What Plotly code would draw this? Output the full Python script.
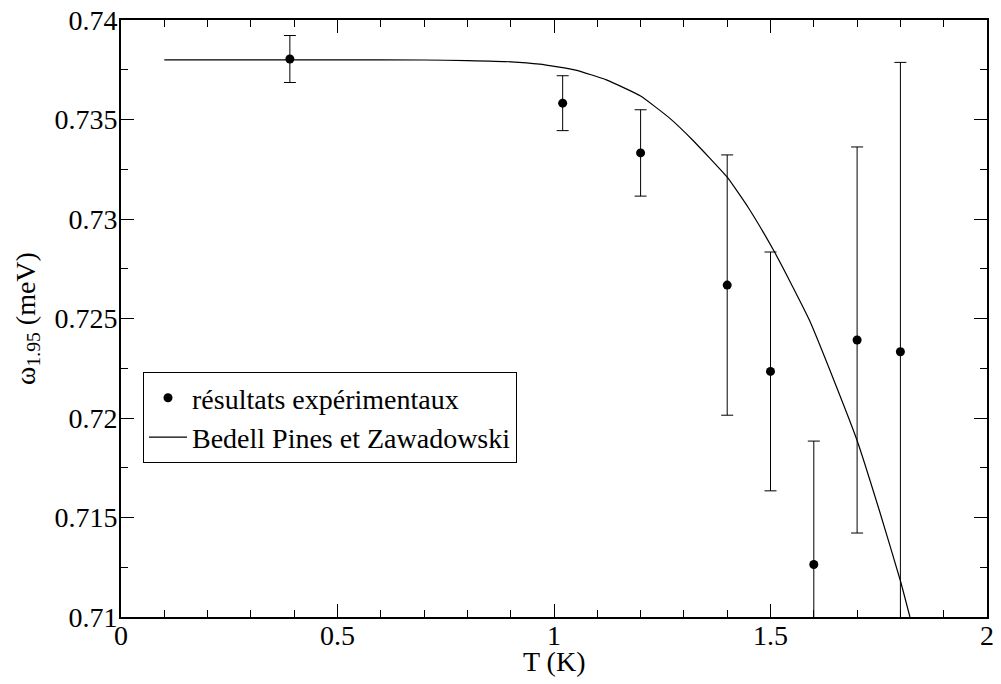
import plotly.graph_objects as go

# Experimental points
T_exp = [0.39, 1.02, 1.2, 1.4, 1.5, 1.6, 1.7, 1.8]
w_exp = [0.73804, 0.73582, 0.73332, 0.72668, 0.72234, 0.71264, 0.72392, 0.72333]
w_err = [0.00118, 0.00138, 0.00217, 0.00654, 0.0060, 0.0062, 0.0097, 0.01454]

# Theory curve (Bedell, Pines & Zawadowski)
T_bpz = [0.1, 0.5, 0.7, 0.8, 0.9, 0.967, 1.05, 1.121, 1.2, 1.267, 1.32, 1.4, 1.45,
         1.509, 1.55, 1.59, 1.65, 1.7, 1.75, 1.8, 1.822]
w_bpz = [0.738, 0.738, 0.73799, 0.73796, 0.7379, 0.73778, 0.73748, 0.73699, 0.73618,
         0.73507, 0.73397, 0.7321, 0.73053, 0.72835, 0.72665, 0.72491, 0.7217, 0.71887,
         0.71545, 0.71182, 0.7100]

x_ticks = [0, 0.5, 1, 1.5, 2]
x_labels = ["0", "0.5", "1", "1.5", "2"]
y_ticks = [0.71, 0.715, 0.72, 0.725, 0.73, 0.735, 0.74]
y_labels = ["0.71", "0.715", "0.72", "0.725", "0.73", "0.735", "0.74"]

FONT = "Liberation Serif, Times New Roman, serif"
FS = 28

W, H = 1001, 684
ML, MR, MT, MB = 121, 14, 20, 67

fig = go.Figure()
fig.add_trace(go.Scatter(
    x=T_exp, y=w_exp, mode="markers", name="résultats expérimentaux",
    marker=dict(color="black", size=9),
    error_y=dict(type="data", array=w_err, color="black", thickness=1, width=6),
))
fig.add_trace(go.Scatter(
    x=T_bpz, y=w_bpz, mode="lines", name="Bedell Pines et Zawadowski",
    line=dict(color="black", width=1.2, shape="spline", smoothing=0.4),
))

axis_common = dict(
    showgrid=False, zeroline=False, showline=True, linecolor="black", linewidth=2,
    mirror="allticks", ticks="inside", ticklen=13, tickwidth=1, tickcolor="black",
    tickfont=dict(family=FONT, size=FS, color="black"), automargin=False,
    ticklabeloverflow="allow",
)

fig.update_xaxes(
    range=[0, 2], tickvals=x_ticks, ticktext=x_labels, ticklabelstandoff=-8,
    minor=dict(dtick=0.1, ticks="inside", ticklen=7, tickwidth=1, tickcolor="black"),
    **axis_common,
)
fig.update_yaxes(
    range=[0.71, 0.74], tickvals=y_ticks, ticktext=y_labels, ticklabelstandoff=-4,
    minor=dict(dtick=0.0025, ticks="inside", ticklen=7, tickwidth=1, tickcolor="black"),
    title=dict(text="ω<sub>1.95</sub> (meV)", font=dict(family=FONT, size=FS, color="black"), standoff=11),
    **axis_common,
)

plot_w = W - ML - MR
plot_h = H - MT - MB
fig.add_annotation(
    text="T (K)", xref="paper", yref="paper", x=0.5, y=-44 / plot_h,
    xanchor="center", yanchor="middle", showarrow=False,
    font=dict(family=FONT, size=FS, color="black"),
)

fig.update_layout(
    width=W, height=H,
    margin=dict(l=ML, r=MR, t=MT, b=MB),
    paper_bgcolor="white", plot_bgcolor="white",
    font=dict(family=FONT, size=FS, color="black"),
    legend=dict(
        x=22 / plot_w, y=1 - (372 - MT) / plot_h, xanchor="left", yanchor="top",
        bordercolor="black", borderwidth=1, bgcolor="white",
        font=dict(family=FONT, size=FS, color="black"),
        tracegroupgap=0, itemwidth=38,
    ),
    showlegend=True,
)

fig.write_html(
    "out.html",
    config={"displayModeBar": False},
    post_script="document.body.style.margin='0';document.body.style.overflow='hidden';",
)
